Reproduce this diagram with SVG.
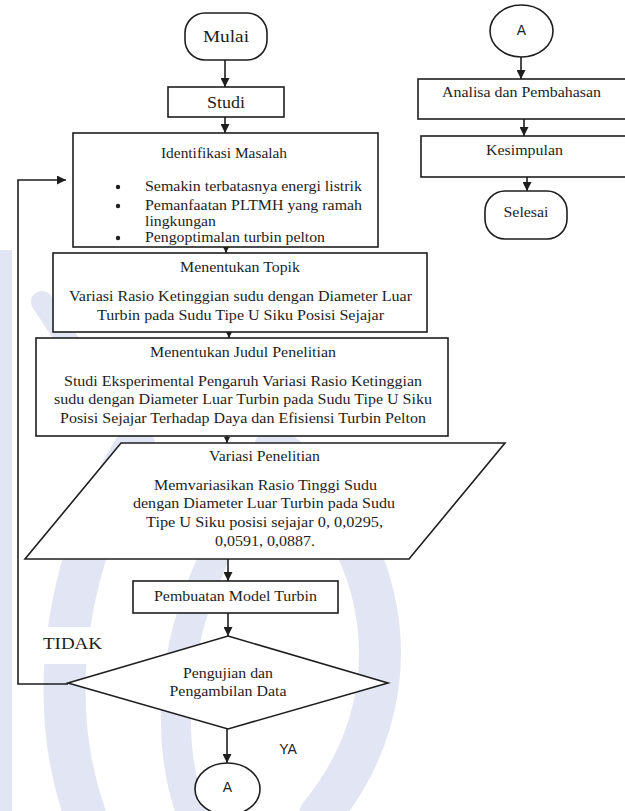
<svg xmlns="http://www.w3.org/2000/svg" width="625" height="811" viewBox="0 0 625 811">
  <style>
    .box { fill: #ffffff; stroke: #1e1e1e; stroke-width: 1.6; }
    .t { font-family: "Liberation Serif", "Times New Roman", serif; font-size: 14px; fill: #1e1e1e; text-anchor: middle; }
    .tl { font-family: "Liberation Serif", "Times New Roman", serif; font-size: 14px; fill: #1e1e1e; text-anchor: start; }
    .big { font-size: 17px; }
    .s { font-family: "Liberation Sans", Arial, sans-serif; font-size: 14px; fill: #1e1e1e; text-anchor: middle; }
    .ln { fill: none; stroke: #1e1e1e; stroke-width: 1.6; }
    .wm { fill: none; stroke: #e2e5f3; stroke-linecap: round; }
    .lbl { fill: #ffffff; stroke: none; }
  </style>
  <defs>
    <marker id="ah" viewBox="0 0 10 10" refX="10" refY="5" markerWidth="9" markerHeight="9" markerUnits="userSpaceOnUse" orient="auto">
      <path d="M0,0 L10,5 L0,10 z" fill="#1e1e1e"/>
    </marker>
    <marker id="ahs" viewBox="0 0 10 10" refX="10" refY="5" markerWidth="6" markerHeight="6" markerUnits="userSpaceOnUse" orient="auto">
      <path d="M0,0 L10,5 L0,10 z" fill="#1e1e1e"/>
    </marker>
  </defs>
  <rect x="0" y="0" width="625" height="811" fill="#ffffff"/>

  <g id="watermark">
    <rect x="0" y="250" width="12" height="561" fill="#e2e5f3"/>
    <path class="wm" d="M42 302 L140 450" stroke-width="22"/>
    <path class="wm" d="M135 448 C65 560 45 700 85 815" stroke-width="42"/>
    <path class="wm" d="M275 448 C395 540 415 700 320 815" stroke-width="42"/>
    <path class="wm" d="M212 562 C172 650 165 740 192 815" stroke-width="30"/>
  </g>

  <g id="connectors">
    <line class="ln" x1="225" y1="60" x2="225" y2="87" marker-end="url(#ah)"/>
    <line class="ln" x1="225" y1="117" x2="225" y2="133" marker-end="url(#ah)"/>
    <line class="ln" x1="226" y1="247" x2="226" y2="253" marker-end="url(#ahs)"/>
    <line class="ln" x1="229" y1="332" x2="229" y2="338" marker-end="url(#ahs)"/>
    <line class="ln" x1="227" y1="436" x2="227" y2="443" marker-end="url(#ahs)"/>
    <line class="ln" x1="228" y1="559" x2="228" y2="581" marker-end="url(#ah)"/>
    <line class="ln" x1="228" y1="613" x2="228" y2="636" marker-end="url(#ah)"/>
    <line class="ln" x1="227" y1="729" x2="227" y2="763" marker-end="url(#ah)"/>
    <polyline class="ln" points="68,684 18,684 18,180 66,180" marker-end="url(#ah)"/>
    <line class="ln" x1="521" y1="57" x2="521" y2="79" marker-end="url(#ah)"/>
    <line class="ln" x1="524" y1="119" x2="524" y2="136" marker-end="url(#ah)"/>
    <line class="ln" x1="527" y1="177" x2="527" y2="191" marker-end="url(#ah)"/>
  </g>

  <g id="label-tidak">
    <rect class="lbl" x="24" y="627" width="96" height="37"/>
    <text class="t" x="72.5" y="649" style="font-size:16px" textLength="59" lengthAdjust="spacingAndGlyphs">TIDAK</text>
  </g>
  <g id="label-ya">
    <rect class="lbl" x="252" y="733" width="70" height="30"/>
    <text class="s" x="288" y="754">YA</text>
  </g>

  <g id="mulai">
    <rect class="box" x="185" y="13" width="82" height="47" rx="20" ry="20"/>
    <text class="t big" x="226" y="42" textLength="46" lengthAdjust="spacingAndGlyphs">Mulai</text>
  </g>
  <g id="studi">
    <rect class="box" x="168" y="87" width="116" height="30"/>
    <text class="t big" x="226" y="108" textLength="38" lengthAdjust="spacingAndGlyphs">Studi</text>
  </g>
  <g id="identifikasi">
    <rect class="box" x="73" y="133" width="305" height="114"/>
    <text class="t" x="224" y="158" textLength="126" lengthAdjust="spacingAndGlyphs">Identifikasi Masalah</text>
    <circle cx="118" cy="187" r="2.2" fill="#1e1e1e"/>
    <circle cx="118" cy="206" r="2.2" fill="#1e1e1e"/>
    <circle cx="118" cy="238" r="2.2" fill="#1e1e1e"/>
    <text class="tl" x="145" y="191" textLength="217" lengthAdjust="spacingAndGlyphs">Semakin terbatasnya energi listrik</text>
    <text class="tl" x="145" y="210" textLength="217" lengthAdjust="spacingAndGlyphs">Pemanfaatan PLTMH yang ramah</text>
    <text class="tl" x="145" y="226" textLength="71" lengthAdjust="spacingAndGlyphs">lingkungan</text>
    <text class="tl" x="145" y="242" textLength="180" lengthAdjust="spacingAndGlyphs">Pengoptimalan turbin pelton</text>
  </g>
  <g id="topik">
    <rect class="box" x="53" y="253" width="374" height="79"/>
    <text class="t" x="240" y="272" textLength="120" lengthAdjust="spacingAndGlyphs">Menentukan Topik</text>
    <text class="t" x="240.5" y="301" textLength="343" lengthAdjust="spacingAndGlyphs">Variasi Rasio Ketinggian sudu dengan Diameter Luar</text>
    <text class="t" x="240.5" y="320" textLength="287" lengthAdjust="spacingAndGlyphs">Turbin pada Sudu Tipe U Siku Posisi Sejajar</text>
  </g>
  <g id="judul">
    <rect class="box" x="36" y="338" width="412" height="98"/>
    <text class="t" x="243" y="357" textLength="186" lengthAdjust="spacingAndGlyphs">Menentukan Judul Penelitian</text>
    <text class="t" x="243" y="386" textLength="358" lengthAdjust="spacingAndGlyphs">Studi Eksperimental Pengaruh Variasi Rasio Ketinggian</text>
    <text class="t" x="243" y="404" textLength="378" lengthAdjust="spacingAndGlyphs">sudu dengan Diameter Luar Turbin pada Sudu Tipe U Siku</text>
    <text class="t" x="243" y="423" textLength="366" lengthAdjust="spacingAndGlyphs">Posisi Sejajar Terhadap Daya dan Efisiensi Turbin Pelton</text>
  </g>
  <g id="variasi">
    <polygon class="box" points="121,443 505,443 409,559 25,559"/>
    <text class="t" x="264.5" y="461" textLength="111" lengthAdjust="spacingAndGlyphs">Variasi Penelitian</text>
    <text class="t" x="265.5" y="490" textLength="223" lengthAdjust="spacingAndGlyphs">Memvariasikan Rasio Tinggi  Sudu</text>
    <text class="t" x="264" y="508" textLength="262" lengthAdjust="spacingAndGlyphs">dengan Diameter Luar Turbin pada Sudu</text>
    <text class="t" x="264.5" y="527" textLength="237" lengthAdjust="spacingAndGlyphs">Tipe U Siku  posisi sejajar 0, 0,0295,</text>
    <text class="t" x="265" y="546" textLength="100" lengthAdjust="spacingAndGlyphs">0,0591, 0,0887.</text>
  </g>
  <g id="pembuatan">
    <rect class="box" x="133" y="581" width="205" height="32"/>
    <text class="t" x="235.5" y="601" textLength="163" lengthAdjust="spacingAndGlyphs">Pembuatan Model Turbin</text>
  </g>
  <g id="pengujian">
    <polygon class="box" points="228,636 388,683 228,729 68,683"/>
    <text class="t" x="228" y="678" textLength="90" lengthAdjust="spacingAndGlyphs">Pengujian dan</text>
    <text class="t" x="228" y="696" textLength="117" lengthAdjust="spacingAndGlyphs">Pengambilan Data</text>
  </g>
  <g id="konektor-a-bawah">
    <ellipse class="box" cx="227.5" cy="789" rx="32.5" ry="26"/>
    <text class="s" x="227.5" y="792">A</text>
  </g>

  <g id="konektor-a-atas">
    <ellipse class="box" cx="521.5" cy="31" rx="31.5" ry="26"/>
    <text class="s" x="521.5" y="35">A</text>
  </g>
  <g id="analisa">
    <rect class="box" x="418" y="79" width="215" height="40"/>
    <text class="t" x="521.5" y="97" textLength="159" lengthAdjust="spacingAndGlyphs">Analisa dan Pembahasan</text>
  </g>
  <g id="kesimpulan">
    <rect class="box" x="421" y="136" width="212" height="41"/>
    <text class="t" x="524.5" y="155" textLength="77" lengthAdjust="spacingAndGlyphs">Kesimpulan</text>
  </g>
  <g id="selesai">
    <rect class="box" x="485" y="191" width="82" height="48" rx="20" ry="20"/>
    <text class="t" x="526" y="217" textLength="45" lengthAdjust="spacingAndGlyphs">Selesai</text>
  </g>
</svg>
